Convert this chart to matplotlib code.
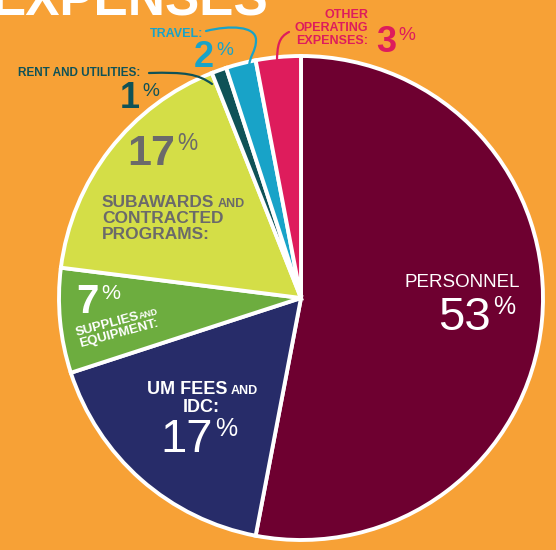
import matplotlib
matplotlib.use("Agg")
import matplotlib.pyplot as plt
from matplotlib.path import Path
from matplotlib.patches import PathPatch

plt.rcParams["font.family"] = ["Liberation Sans", "DejaVu Sans"]

W, H = 556, 550
BG = "#F7A136"

categories = ["PERSONNEL", "UM FEES AND IDC", "SUPPLIES AND EQUIPMENT",
              "SUBAWARDS AND CONTRACTED PROGRAMS", "RENT AND UTILITIES",
              "TRAVEL", "OTHER OPERATING EXPENSES"]
shares = [53, 17, 7, 17, 1, 2, 3]
colors = ["#6E0030", "#272C69", "#6DAD3F", "#D4DE47",
          "#0F5257", "#18A3C8", "#DE1C5C"]

GRAY = "#6B6A6A"

fig = plt.figure(figsize=(W / 100, H / 100), dpi=100)
fig.patch.set_facecolor(BG)
ax = fig.add_axes([0, 0, 1, 1])
ax.set_facecolor(BG)

ax.pie(shares, colors=colors, startangle=90, counterclock=False,
       center=(301, H - 298), radius=242,
       wedgeprops=dict(edgecolor="white", linewidth=2.8))
ax.set_xlim(0, W)
ax.set_ylim(0, H)
ax.set_aspect("equal")
ax.axis("off")

renderer = fig.canvas.get_renderer()


def txt(x, y, s, size, color, weight="bold", **kw):
    # y given in image pixels (top-down)
    return ax.text(x, H - y, s, fontsize=size, color=color,
                   fontweight=weight, va="baseline", **kw)


def follow(t, s, size, color, weight="bold", gap=3):
    bb = t.get_window_extent(renderer)
    return ax.text(bb.x1 + gap, t.get_position()[1], s, fontsize=size,
                   color=color, fontweight=weight, va="baseline", ha="left")


def pct(xr, yb, num, size, color, weight="bold"):
    txt(xr, yb, num, size, color, weight, ha="right")
    txt(xr + 2, yb - size * 0.48, "%", size * 0.53, color, "normal", ha="left")


def leader(pts, color):
    verts = [(x, H - y) for x, y in pts]
    codes = [Path.MOVETO] + [Path.CURVE4] * (len(verts) - 1)
    ax.add_patch(PathPatch(Path(verts, codes), fill=False, edgecolor=color,
                           lw=1.6, capstyle="round"))


# title (cut off at the top)
txt(268, 16, "EXPENSES", 37, "white", ha="right")

# other operating expenses
for s, y in [("OTHER", 18), ("OPERATING", 31), ("EXPENSES:", 44)]:
    txt(368, y, s, 9, colors[6], ha="right")
pct(396, 52, "3", 26, colors[6])
leader([(289, 32), (279, 37), (277, 45), (277, 63)], colors[6])

# travel
txt(150, 37, "TRAVEL:", 9, colors[5])
pct(214, 67, "2", 26, colors[5])
leader([(206, 31), (230, 25), (256, 26), (256, 40),
        (256, 52), (249, 56), (249, 68)], colors[5])

# rent and utilities
txt(18, 76, "RENT AND UTILITIES:", 8.5, colors[4])
pct(140, 108, "1", 26, colors[4])
leader([(149, 73), (185, 72), (198, 74), (212, 84)], colors[4])

# subawards
pct(175, 165, "17", 31, GRAY)
t = txt(102, 207, "SUBAWARDS", 12.5, GRAY)
follow(t, "AND", 9, GRAY)
txt(102, 223, "CONTRACTED", 12.5, GRAY)
txt(102, 239, "PROGRAMS:", 12.5, GRAY)

# supplies
pct(99, 313, "7", 29, "white")
t = txt(77, 336, "SUPPLIES", 9.5, "white", rotation=15,
        rotation_mode="anchor", ha="left")
txt(140, 319, "AND", 6.5, "white", rotation=15, rotation_mode="anchor",
    ha="left")
txt(80, 347, "EQUIPMENT:", 9.5, "white", rotation=15,
    rotation_mode="anchor", ha="left")

# um fees and idc
t = txt(147, 394, "UM FEES", 13, "white")
follow(t, "AND", 9, "white")
txt(183, 412, "IDC:", 13, "white")
pct(213, 452, "17", 34, "white", "normal")

# personnel
txt(404, 287, "PERSONNEL", 13.5, "white", "normal")
pct(491, 330, "53", 34, "white", "normal")

fig.savefig("out.png", dpi=100, facecolor=fig.get_facecolor())
